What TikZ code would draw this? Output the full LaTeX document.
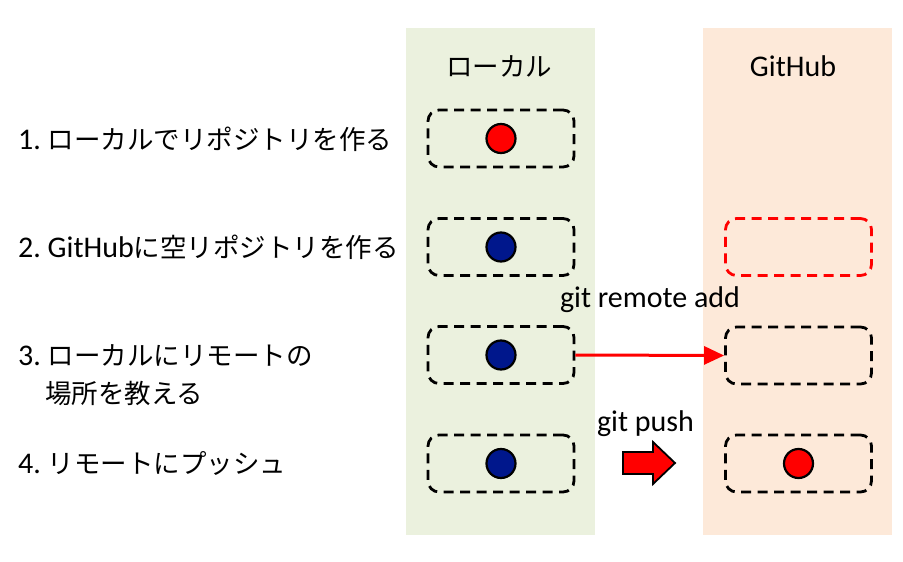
\documentclass[tikz,border=0pt]{standalone}
\usepackage{fontspec}
\setmainfont{Carlito}
\newfontfamily\jp{Noto Sans CJK JP}
\usetikzlibrary{arrows.meta}
\definecolor{localbg}{HTML}{EBF1DE}
\definecolor{ghbg}{HTML}{FDE9D9}
\definecolor{navydot}{HTML}{00178C}
\tikzset{
  repobox/.style={draw=black, line width=2.8pt, dash pattern=on 10pt off 6.5pt,
    rounded corners=11pt, minimum width=146pt, minimum height=57pt, inner sep=0pt},
  emptyrepo/.style={repobox, draw=red},
  commitdot/.style={circle, draw=black, line width=2.2pt, minimum size=29pt, inner sep=0pt},
  lab/.style={anchor=base west, inner sep=0pt, font=\fontsize{30}{36}\selectfont},
  cmd/.style={anchor=base, inner sep=0pt, font=\fontsize{30}{36}\selectfont},
}
\newcommand{\jpt}[1]{{\fontsize{26.5}{32}\selectfont\jp #1}}
\begin{document}
\begin{tikzpicture}[x=1pt,y=-1pt]
\useasboundingbox (0,0) rectangle (903,562);
\fill[localbg] (406,28) rectangle (595,535);
\fill[ghbg] (703,28) rectangle (892,535);

% headings
\node[anchor=base, inner sep=0pt] (hl) at (499,76) {\jpt{ローカル}};
\node[cmd] (hg) at (793,76) {GitHub};

% left labels
\node[lab] (lab1) at (18,149) {1.\ \jpt{ローカルでリポジトリを作る}};
\node[lab] (lab2) at (18,257) {2.\ GitHub\jpt{に空リポジトリを作る}};
\node[lab] (lab3a) at (18,365) {3.\ \jpt{ローカルにリモートの}};
\node[lab] (lab3b) at (45,403) {\jpt{場所を教える}};
\node[lab] (lab4) at (18,473) {4.\ \jpt{リモートにプッシュ}};

% local boxes
\node[repobox] (l1) at (501,138.5) {};
\node[repobox] (l2) at (501,247) {};
\node[repobox] (l3) at (501,355) {};
\node[repobox] (l4) at (501,463.5) {};
\node[commitdot, fill=red] (d1) at (l1.center) {};
\node[commitdot, fill=navydot] (d2) at (l2.center) {};
\node[commitdot, fill=navydot] (d3) at (l3.center) {};
\node[commitdot, fill=navydot] (d4) at (l4.center) {};

% github boxes
\node[emptyrepo] (g2) at (798.5,247) {};
\node[repobox] (g3) at (798.5,355.5) {};
\node[repobox] (g4) at (798.5,463.5) {};
\node[commitdot, fill=red] (gd4) at (g4.center) {};

% commands
\node[cmd] (c3) at (650,307) {git remote add};
\draw[red, line width=3pt, -{Triangle[length=20pt,width=18pt]}] (l3.east) -- (g3.west);
\node[cmd] (c4) at (645.5,431) {git push};
\draw[fill=red, draw=black, line width=1.8pt, line join=miter]
  (623,452) -- (653,452) -- (653,442) -- (675,463) -- (653,484) -- (653,474) -- (623,474) -- cycle;
\end{tikzpicture}
\end{document}
